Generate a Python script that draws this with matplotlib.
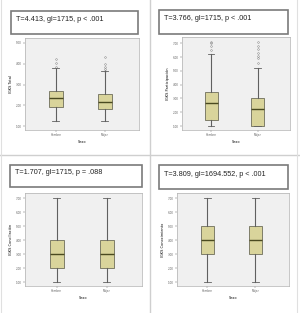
import matplotlib
matplotlib.use("Agg")
import matplotlib.pyplot as plt
from matplotlib.patches import Rectangle
from matplotlib.lines import Line2D

# ---- data ----
titles = ["T=4.413, gl=1715, p < .001", "T=3.766, gl=1715, p < .001",
          "T=1.707, gl=1715, p = .088", "T=3.809, gl=1694.552, p < .001"]
ylabels = ["IGKS Total", "IGKS Participación", "IGKS Conciliación", "IGKS Conocimiento"]
categories = ["Hombre", "Mujer"]
xlabel = "Sexo"
# box stats per panel per group: (whislo, q1, med, q3, whishi)
stats_p1 = [(1.24, 1.92, 2.35, 2.69, 3.80), (1.24, 1.82, 2.16, 2.54, 3.65)]
fliers_p1 = [[3.84, 4.04, 4.23], [3.66, 3.75, 3.84, 3.99, 4.33]]
stats_p2 = [(1.02, 1.44, 2.65, 3.45, 6.22), (1.02, 1.02, 2.23, 3.00, 5.19)]
fliers_p2 = [[6.5, 6.8, 7.0, 7.1], [5.6, 5.9, 6.1, 6.3, 6.6, 6.8, 7.1]]
stats_p3 = [(1, 2, 3, 4, 7), (1, 2, 3, 4, 7)]
fliers_p3 = [[], []]
stats_p4 = [(1, 3, 4, 5, 7), (1, 3, 4, 5, 7)]
fliers_p4 = [[], []]
yticks_p1 = [1.00, 2.00, 3.00, 4.00, 5.00]
yticks_p2 = [1.00, 2.00, 3.00, 4.00, 5.00, 6.00, 7.00]
yticks_p3 = [1.00, 2.00, 3.00, 4.00, 5.00, 6.00, 7.00]
yticks_p4 = [1.00, 2.00, 3.00, 4.00, 5.00, 6.00, 7.00]

W, H = 300, 313
fig = plt.figure(figsize=(W / 100, H / 100), dpi=100)
fig.patch.set_facecolor("white")

def fx(x): return x / W
def fy(y): return 1 - y / H

# panel dividers
fig.add_artist(Line2D([fx(150), fx(150)], [0, 1], color="#cfcfcf", lw=1.0))
fig.add_artist(Line2D([0, 1], [fy(155), fy(155)], color="#cfcfcf", lw=1.0))
fig.add_artist(Line2D([fx(297), fx(297)], [0, 1], color="#e0e0e0", lw=0.8))
fig.add_artist(Line2D([fx(1), fx(1)], [0, 1], color="#e0e0e0", lw=0.8))

panels = [
    dict(stats=stats_p1, fliers=fliers_p1, yt=yticks_p1, ylim=(0.81, 5.24),
         ax=(25, 38, 139, 130), tb=(11, 11, 138, 34)),
    dict(stats=stats_p2, fliers=fliers_p2, yt=yticks_p2, ylim=(0.71, 7.46),
         ax=(182, 37, 290, 130), tb=(159, 10, 288, 34)),
    dict(stats=stats_p3, fliers=fliers_p3, yt=yticks_p3, ylim=(0.74, 7.38),
         ax=(25, 193, 142, 286), tb=(10, 165, 142, 187)),
    dict(stats=stats_p4, fliers=fliers_p4, yt=yticks_p4, ylim=(0.74, 7.38),
         ax=(177, 193, 289, 286), tb=(159, 165, 288, 189)),
]

for i, p in enumerate(panels):
    x0, y0, x1, y1 = p["ax"]
    ax = fig.add_axes([fx(x0), fy(y1), fx(x1 - x0), (y1 - y0) / H])
    ax.set_facecolor("#f0f0f0")
    bxp_stats = []
    for k, (s, fl) in enumerate(zip(p["stats"], p["fliers"])):
        bxp_stats.append(dict(whislo=s[0], q1=s[1], med=s[2], q3=s[3],
                              whishi=s[4], fliers=fl, label=categories[k]))
    ax.bxp(bxp_stats, positions=[1, 2], widths=0.28, patch_artist=True,
           boxprops=dict(facecolor="#d9d49b", edgecolor="#6e6e5a", lw=0.6),
           medianprops=dict(color="#4a4a20", lw=1.0),
           whiskerprops=dict(color="#606060", lw=0.8),
           capprops=dict(color="#606060", lw=0.6),
           flierprops=dict(marker="o", markersize=1.2, markerfacecolor="none",
                           markeredgecolor="#707070", markeredgewidth=0.3))
    ax.set_xlim(0.37, 2.70)
    ax.set_ylim(*p["ylim"])
    ax.set_yticks(p["yt"])
    ax.set_yticklabels([f"{v:.2f}" for v in p["yt"]], fontsize=2)
    ax.set_xticklabels(categories, fontsize=2)
    ax.tick_params(length=1.2, width=0.3, pad=1, colors="#606060")
    ax.set_xlabel(xlabel, fontsize=2.5, labelpad=2)
    ax.set_ylabel(ylabels[i], fontsize=2.5, labelpad=2)
    for sp in ax.spines.values():
        sp.set_color("#b0b0b0")
        sp.set_linewidth(0.5)
    # statistic text box
    bx0, by0, bx1, by1 = p["tb"]
    fig.add_artist(Rectangle((fx(bx0), fy(by1)), fx(bx1 - bx0), (by1 - by0) / H,
                             transform=fig.transFigure, facecolor="white",
                             edgecolor="#7a7a7a", lw=1.2))
    fig.text(fx(bx0 + 5), fy((by0 + by1) / 2 - 3), titles[i], fontsize=5.2,
             family="Liberation Sans", va="center", ha="left", color="#222222")

fig.savefig("out.png", dpi=100)
